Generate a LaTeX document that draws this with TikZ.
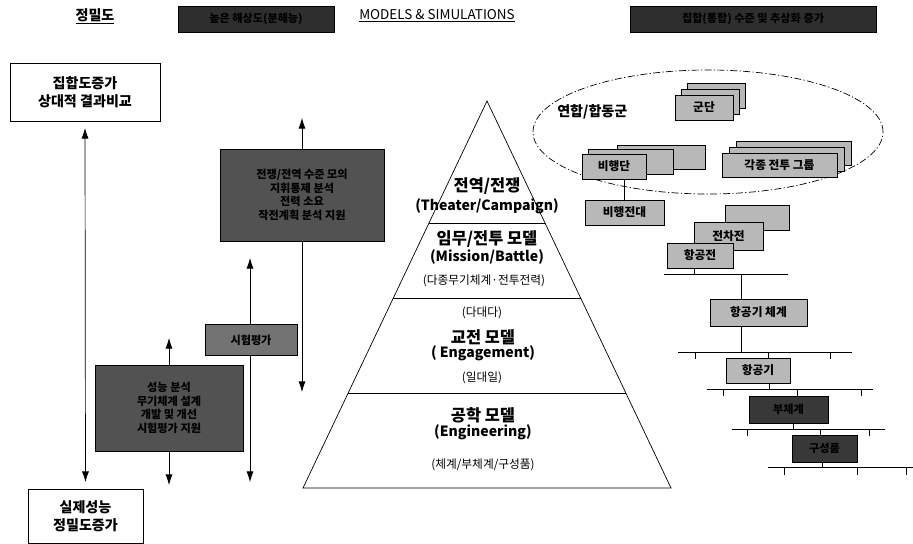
\documentclass[tikz,border=0pt]{standalone}
\usepackage{fontspec}
\setmainfont{Noto Sans CJK KR}
\usetikzlibrary{arrows.meta}

\tikzset{
    lbox/.style={draw, line width=0.8pt, fill=black!28, inner sep=0pt, font=\bfseries\fontsize{10}{12}\selectfont},
    dbox/.style={draw, fill=black!68, text=black, inner sep=0pt, align=center, font=\bfseries\fontsize{9.5}{11.5}\selectfont},
    wbox/.style={draw, fill=white, inner sep=0pt, align=center, font=\bfseries\fontsize{12}{15}\selectfont},
    ptxt/.style={font=\bfseries\fontsize{12}{13}\selectfont, inner sep=0pt},
    pkor/.style={font=\bfseries\fontsize{14}{15}\selectfont, inner sep=0pt},
    psub/.style={font=\fontsize{10}{11}\selectfont, inner sep=0pt},
    tick/.style={line width=0.6pt},
}

\begin{document}
\begin{tikzpicture}[x=0.03cm, y=-0.03cm, >={Latex[length=9pt,width=6pt]}, line width=0.6pt]
    \useasboundingbox (0,0) rectangle (913,544);

    % header
    \node[font=\bfseries\fontsize{12}{14}\selectfont] (hdrPrec) at (95,16) {\underline{정밀도}};
    \node[dbox, fill=black!82, minimum width=4.68cm, minimum height=0.78cm] (hdrLeft) at (256,19) {높은 해상도(분해능)};
    \node[font=\fontsize{11.5}{13}\selectfont] (hdrMS) at (437,16) {\underline{MODELS \& SIMULATIONS}};
    \node[dbox, fill=black!82, minimum width=7.38cm, minimum height=0.78cm] (hdrRight) at (753,19) {집합(통합) 수준 및 추상화 증가};

    % left column
    \node[wbox, minimum width=4.5cm, minimum height=1.74cm] (topBox) at (85,92) {집합도증가\\상대적 결과비교};
    \node[wbox, minimum width=3.45cm, minimum height=1.62cm] (botBox) at (85.5,516) {실제성능\\정밀도증가};
    \draw[<->, shorten <=0.2cm, shorten >=0.2cm] (topBox.south) -- (botBox.north);

    \node[dbox, minimum width=4.92cm, minimum height=2.76cm] (boxA) at (302,195)
        {전쟁/전역 수준 모의\\지휘통제 분석\\전력 소요\\작전계획 분석 지원};
    \coordinate (aTop) at (302,118);
    \coordinate (aBot) at (302,392);
    \draw[->] (boxA.north) -- (aTop);
    \draw[->] (boxA.south) -- (aBot);

    \node[dbox, fill=black!55, minimum width=2.76cm, minimum height=0.93cm] (testBox) at (251,340) {시험평가};
    \coordinate (tTop) at (250,258);
    \coordinate (tBot) at (250,482);
    \draw[->] (testBox.north -| tTop) -- (tTop);
    \draw[->] (testBox.south -| tBot) -- (tBot);

    \node[dbox, minimum width=4.44cm, minimum height=2.58cm] (boxB) at (169,408)
        {성능 분석\\무기체계 설계\\개발 및 개선\\시험평가 지원};
    \coordinate (bTop) at (169,338);
    \coordinate (bBot) at (169,485);
    \draw[->] (boxB.north) -- (bTop);
    \draw[->] (boxB.south) -- (bBot);

    % pyramid
    \coordinate (apex) at (487,101);
    \coordinate (baseL) at (303,488);
    \coordinate (baseR) at (671,488);
    \draw (apex) -- (baseR) -- (baseL) -- cycle;
    \draw (429,223) -- (545,223);
    \draw (393,298) -- (581,298);
    \draw (348,393) -- (626,393);

    \node[pkor] (thK) at (487,186) {전역/전쟁};
    \node[ptxt] (thE) at (487,206) {(Theater/Campaign)};
    \node[pkor] (miK) at (487,239) {임무/전투 모델};
    \node[ptxt] (miE) at (487,257) {(Mission/Battle)};
    \node[psub] (miS) at (484,281) {(다종무기체계·전투전력)};
    \node[psub] (enT) at (482,313) {(다대다)};
    \node[pkor] (enK) at (483,337) {교전 모델};
    \node[ptxt] (enE) at (483,353) {( Engagement)};
    \node[psub] (enS) at (482,378) {(일대일)};
    \node[pkor] (egK) at (483,415) {공학 모델};
    \node[ptxt] (egE) at (483,432) {(Engineering)};
    \node[psub] (egS) at (483,465) {(체계/부체계/구성품)};

    % force structure
    \draw[dash pattern=on 6pt off 2pt on 1pt off 2pt] (708,132) ellipse [x radius=5.25cm, y radius=1.86cm];
    \node[font=\bfseries\fontsize{12}{14}\selectfont, anchor=west] (coal) at (553,112) {연합/합동군};

    \node[lbox, minimum width=1.74cm, minimum height=0.75cm] (corps3) at (716,95.5) {};
    \node[lbox, minimum width=1.74cm, minimum height=0.75cm] (corps2) at (710,101.5) {};
    \node[lbox, minimum width=1.74cm, minimum height=0.75cm] (corps) at (704,107.5) {군단};

    \node[lbox, minimum width=2.64cm, minimum height=0.72cm] (wing3) at (661,157) {};
    \node[lbox, minimum width=2.55cm, minimum height=0.75cm] (wing2) at (630.5,161.5) {};
    \node[lbox, minimum width=1.92cm, minimum height=0.75cm] (wing) at (614,166.5) {비행단};

    \node[lbox, minimum width=3.45cm, minimum height=0.72cm] (cbg3) at (794,153) {};
    \node[lbox, minimum width=3.45cm, minimum height=0.72cm] (cbg2) at (787,159) {};
    \node[lbox, minimum width=3.45cm, minimum height=0.72cm] (cbg) at (779.5,165) {각종 전투 그룹};

    \node[lbox, minimum width=2.37cm, minimum height=0.75cm] (group) at (624.5,212.5) {비행전대};
    \draw (group.north) -- (group.north |- wing.south);

    \node[lbox, minimum width=1.92cm, minimum height=0.75cm] (war3) at (757,217.5) {};
    \node[lbox, minimum width=2.07cm, minimum height=0.84cm] (tankWar) at (728.5,236) {전차전};
    \node[lbox, minimum width=1.98cm, minimum height=0.75cm] (airWar) at (700,255.5) {항공전};

    % breakdown tree
    \coordinate (bar1L) at (664,274);  \coordinate (bar1R) at (788,274);
    \coordinate (bar2L) at (678,352);  \coordinate (bar2R) at (852,352);
    \coordinate (bar3L) at (707,389);  \coordinate (bar3R) at (873,389);
    \coordinate (bar4L) at (732,429);  \coordinate (bar4R) at (885,429);
    \coordinate (bar5L) at (768,467);  \coordinate (bar5R) at (913,467);

    \node[lbox, minimum width=2.91cm, minimum height=0.81cm] (acSys) at (758.5,312.5) {항공기 체계};
    \node[lbox, minimum width=1.92cm, minimum height=0.75cm] (ac) at (758,370.5) {항공기};
    \node[dbox, fill=black!78, minimum width=2.37cm, minimum height=0.81cm] (subSys) at (788.5,409.5) {부체계};
    \node[dbox, fill=black!78, minimum width=1.95cm, minimum height=0.81cm] (comp) at (824.5,448.5) {구성품};

    \draw[tick] (bar1L) -- (bar1R);
    \draw[tick] (airWar.south -| 694,0) -- (bar1L -| 694,0);
    \draw[tick] (bar1L -| 741,0) -- (acSys.north -| 741,0);

    \draw[tick] (acSys.south -| 741,0) -- (bar2L -| 741,0);
    \draw[tick] (bar2L) -- (bar2R);
    \foreach \tx in {695,830} \draw[tick] (\tx,352) -- (\tx,359);
    \draw[tick] (bar2L -| 768,0) -- (ac.north -| 768,0);

    \draw[tick] (ac.south -| 769,0) -- (bar3L -| 769,0);
    \draw[tick] (bar3L) -- (bar3R);
    \foreach \tx in {723,861} \draw[tick] (\tx,389) -- (\tx,396);
    \draw[tick] (bar3L -| 797,0) -- (subSys.north -| 797,0);

    \draw[tick] (subSys.south -| 793,0) -- (bar4L -| 793,0);
    \draw[tick] (bar4L) -- (bar4R);
    \foreach \tx in {747,869} \draw[tick] (\tx,429) -- (\tx,436);
    \draw[tick] (bar4L -| 820,0) -- (comp.north -| 820,0);

    \draw[tick] (comp.south -| 822,0) -- (bar5L -| 822,0);
    \draw[tick] (bar5L) -- (bar5R);
    \foreach \tx in {784,857,906} \draw[tick] (\tx,467) -- (\tx,475);
\end{tikzpicture}
\end{document}
